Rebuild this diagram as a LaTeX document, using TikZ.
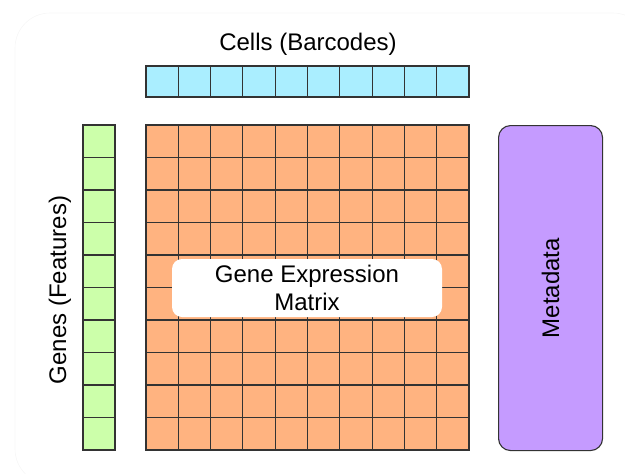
\documentclass[tikz,border=0pt]{standalone}
\usepackage{fontspec}
\setmainfont{Liberation Sans}

\definecolor{cellblue}{HTML}{AAEEFF}
\definecolor{genegreen}{HTML}{CCFFAA}
\definecolor{matorange}{HTML}{FFB380}
\definecolor{metapurple}{HTML}{C59BFF}
\definecolor{edgegray}{HTML}{333333}

\tikzset{
  cellbox/.style={draw=edgegray, line width=1.1pt, minimum width=32.3pt, minimum height=31pt, inner sep=0pt, outer sep=0pt},
  label/.style={font=\fontsize{24}{28}\selectfont, align=center},
}

\begin{document}
\begin{tikzpicture}[x=1pt, y=-1pt]
  \useasboundingbox (0,0) rectangle (625,474);
  \clip (0,0) rectangle (625,474);
  % Background
  \draw[gray!7, line width=0.6pt, rounded corners=35pt] (15,13) rectangle (648,484);
  % Nodes
  \node[label] (cells) at (308,44) {Cells (Barcodes)};
  \foreach \i in {0,...,9} {
    \node[cellbox, fill=cellblue, anchor=north west] (c\i) at (146+32.3*\i,66) {};
  }
  \foreach \j in {0,...,9} {
    \node[cellbox, fill=genegreen, minimum width=32pt, minimum height=32.5pt, anchor=north west] (g\j) at (83,125+32.5*\j) {};
    \foreach \i in {0,...,9} {
      \node[cellbox, fill=matorange, minimum height=32.5pt, anchor=north west] (m\i\j) at (146+32.3*\i,125+32.5*\j) {};
    }
  }
  \node[label, rotate=90] (genes) at (60,290) {Genes (Features)};
  \node[draw=edgegray, line width=1.1pt, fill=metapurple, rounded corners=12pt, minimum width=104pt, minimum height=325pt, anchor=north west] (meta) at (498,125) {};
  \node[label, rotate=90] (metalabel) at (meta.center) {Metadata};
  \node[label, fill=white, rounded corners=10pt, minimum width=270pt, minimum height=58pt, inner sep=0pt] (gem) at (307,288) {Gene Expression\\Matrix};
\end{tikzpicture}
\end{document}
